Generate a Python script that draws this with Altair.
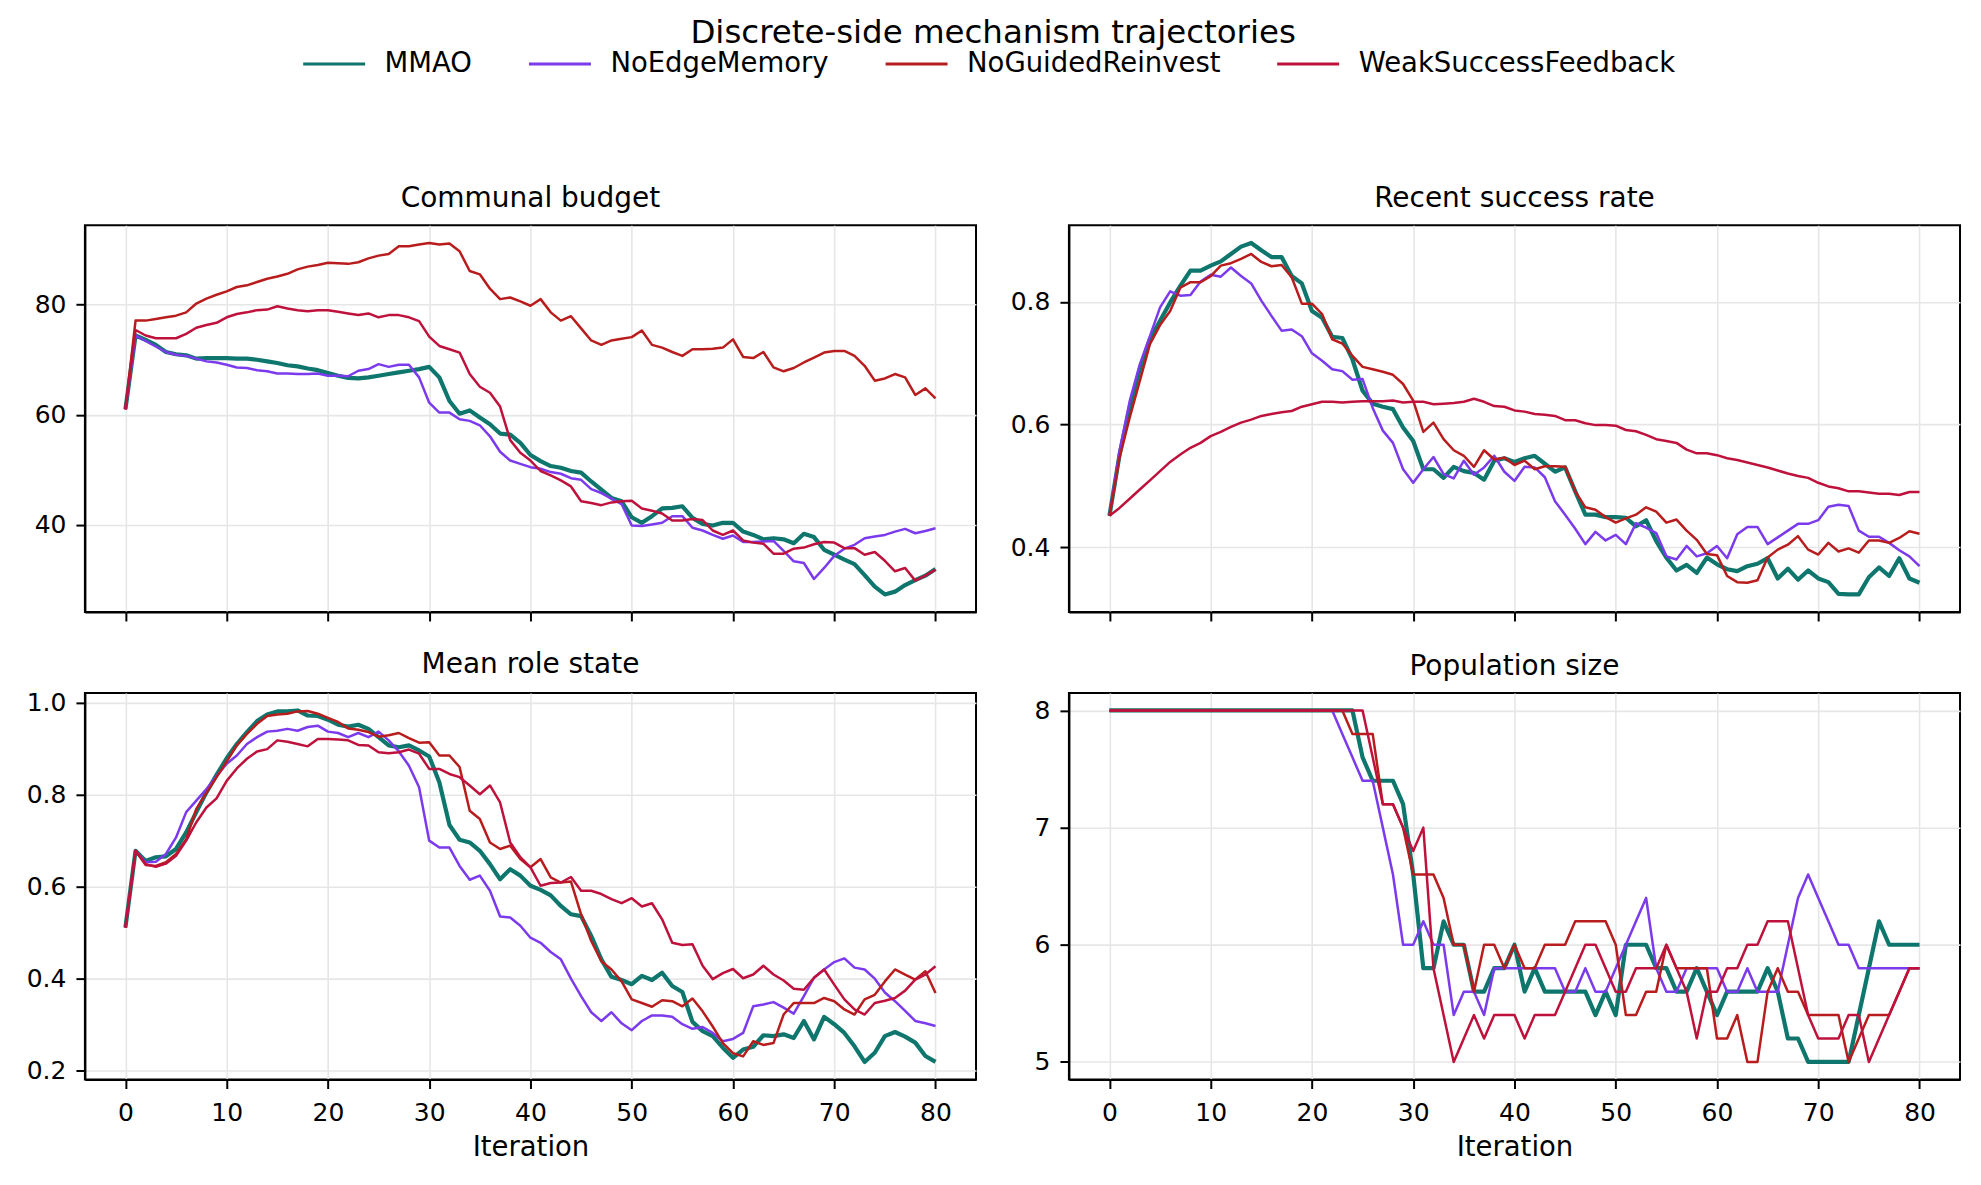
import altair as alt
import pandas as pd

# ---------------------------------------------------------------------------
# Data: per-iteration trajectories of four mechanism variants
# ---------------------------------------------------------------------------
iterations = list(range(0, 81))
x_ticks = [0, 10, 20, 30, 40, 50, 60, 70, 80]

series_names = ["MMAO", "NoEdgeMemory", "NoGuidedReinvest", "WeakSuccessFeedback"]
series_colors = ["#0f766e", "#7c3aed", "#b91c1c", "#be123c"]
series_line_widths = [4.2, 2.5, 2.5, 2.5]

budget_mmao = [61.0, 74.4, 73.6, 72.7, 71.4, 71.0, 70.8, 70.2, 70.3, 70.3,
               70.3, 70.2, 70.2, 70.0, 69.7, 69.4, 69.0, 68.8, 68.4, 68.1,
               67.6, 67.1, 66.7, 66.6, 66.8, 67.1, 67.4, 67.7, 68.0, 68.3,
               68.7, 66.8, 62.5, 60.2, 60.8, 59.5, 58.3, 56.6, 56.4, 54.9,
               52.7, 51.6, 50.7, 50.4, 49.8, 49.5, 47.9, 46.4, 44.9, 44.3,
               41.4, 40.4, 41.6, 43.0, 43.1, 43.4, 41.3, 40.2, 39.9, 40.4,
               40.4, 38.8, 38.2, 37.4, 37.6, 37.4, 36.7, 38.4, 37.8, 35.5,
               34.6, 33.7, 32.9, 30.9, 28.8, 27.4, 27.9, 29.1, 30.0, 30.8,
               32.0]
budget_noedge = [61.0, 74.4, 73.4, 72.4, 71.4, 70.9, 70.7, 70.2, 69.7, 69.5,
                 69.1, 68.6, 68.5, 68.1, 67.9, 67.5, 67.5, 67.4, 67.4, 67.5,
                 67.1, 67.1, 67.0, 68.0, 68.3, 69.2, 68.7, 69.1, 69.1, 66.8,
                 62.2, 60.4, 60.4, 59.2, 58.9, 58.1, 56.1, 53.3, 51.7, 51.1,
                 50.5, 50.2, 49.6, 49.3, 48.5, 48.2, 46.5, 45.8, 44.8, 43.8,
                 39.9, 39.8, 40.1, 40.4, 41.6, 41.6, 39.5, 39.0, 38.2, 37.5,
                 38.1, 36.9, 36.9, 37.0, 37.1, 35.3, 33.4, 33.1, 30.2, 32.2,
                 34.4, 35.7, 36.4, 37.6, 37.9, 38.2, 38.8, 39.3, 38.5, 38.9,
                 39.4]
budget_noguided = [61.0, 77.1, 77.1, 77.4, 77.7, 78.0, 78.6, 80.2, 81.1, 81.8,
                   82.4, 83.2, 83.5, 84.1, 84.7, 85.1, 85.6, 86.4, 86.9, 87.2,
                   87.6, 87.5, 87.4, 87.7, 88.4, 88.9, 89.2, 90.6, 90.6, 90.9,
                   91.2, 90.9, 91.1, 89.7, 86.1, 85.5, 82.9, 81.0, 81.3, 80.6,
                   79.8, 81.0, 78.6, 77.1, 77.9, 75.7, 73.5, 72.7, 73.5, 73.8,
                   74.1, 75.3, 72.7, 72.2, 71.4, 70.7, 71.9, 71.9, 72.0, 72.2,
                   73.7, 70.5, 70.3, 71.4, 68.6, 67.9, 68.5, 69.5, 70.4, 71.3,
                   71.6, 71.6, 70.7, 68.9, 66.2, 66.6, 67.4, 66.8, 63.6, 64.8,
                   63.0]
budget_weak = [61.0, 75.4, 74.4, 73.9, 73.9, 73.9, 74.7, 75.8, 76.3, 76.7,
               77.7, 78.3, 78.6, 79.0, 79.1, 79.7, 79.3, 79.0, 78.8, 79.0,
               79.0, 78.7, 78.4, 78.1, 78.4, 77.7, 78.1, 78.1, 77.7, 77.0,
               74.2, 72.5, 71.9, 71.3, 67.4, 65.1, 64.0, 61.5, 55.4, 53.1,
               51.7, 49.8, 49.0, 48.1, 47.0, 44.3, 44.0, 43.6, 44.1, 44.3,
               44.4, 43.0, 42.6, 42.1, 40.8, 40.8, 41.1, 40.9, 39.0, 38.2,
               39.0, 37.2, 36.8, 36.6, 34.8, 34.8, 35.7, 35.9, 36.5, 36.9,
               36.8, 35.8, 35.8, 34.6, 35.1, 33.5, 31.6, 32.2, 29.9, 30.8,
               31.9]

success_mmao = [0.451, 0.551, 0.627, 0.690, 0.739, 0.769, 0.799, 0.826, 0.851, 0.851,
                0.859, 0.866, 0.878, 0.890, 0.896, 0.884, 0.873, 0.873, 0.842, 0.830,
                0.785, 0.774, 0.743, 0.741, 0.706, 0.655, 0.634, 0.629, 0.625, 0.595,
                0.573, 0.527, 0.527, 0.513, 0.531, 0.524, 0.521, 0.510, 0.541, 0.545,
                0.539, 0.545, 0.549, 0.536, 0.523, 0.530, 0.491, 0.453, 0.453, 0.449,
                0.449, 0.448, 0.434, 0.444, 0.410, 0.383, 0.362, 0.371, 0.358, 0.383,
                0.372, 0.364, 0.361, 0.369, 0.373, 0.382, 0.349, 0.365, 0.347, 0.362,
                0.349, 0.343, 0.324, 0.323, 0.323, 0.351, 0.367, 0.353, 0.382, 0.349,
                0.342]
success_noedge = [0.451, 0.557, 0.638, 0.698, 0.744, 0.791, 0.817, 0.810, 0.811, 0.833,
                  0.844, 0.841, 0.856, 0.842, 0.830, 0.802, 0.777, 0.753, 0.755, 0.744,
                  0.716, 0.704, 0.690, 0.687, 0.673, 0.674, 0.627, 0.590, 0.570, 0.527,
                  0.505, 0.527, 0.547, 0.519, 0.512, 0.541, 0.518, 0.530, 0.549, 0.523,
                  0.508, 0.531, 0.530, 0.514, 0.475, 0.453, 0.430, 0.405, 0.425, 0.411,
                  0.420, 0.405, 0.439, 0.432, 0.423, 0.385, 0.380, 0.402, 0.385, 0.390,
                  0.402, 0.382, 0.421, 0.433, 0.433, 0.405, 0.416, 0.427, 0.438, 0.438,
                  0.444, 0.466, 0.469, 0.467, 0.427, 0.417, 0.417, 0.407, 0.395, 0.385,
                  0.369]
success_noguided = [0.451, 0.546, 0.611, 0.671, 0.731, 0.762, 0.785, 0.823, 0.832, 0.832,
                    0.842, 0.859, 0.863, 0.870, 0.878, 0.865, 0.858, 0.860, 0.840, 0.797,
                    0.797, 0.780, 0.739, 0.732, 0.712, 0.694, 0.690, 0.686, 0.681, 0.666,
                    0.639, 0.588, 0.603, 0.576, 0.558, 0.549, 0.531, 0.558, 0.543, 0.546,
                    0.534, 0.541, 0.527, 0.532, 0.532, 0.531, 0.491, 0.465, 0.461, 0.449,
                    0.440, 0.447, 0.453, 0.465, 0.458, 0.440, 0.445, 0.427, 0.412, 0.389,
                    0.387, 0.353, 0.343, 0.342, 0.346, 0.383, 0.396, 0.404, 0.418, 0.396,
                    0.388, 0.407, 0.393, 0.398, 0.391, 0.411, 0.411, 0.407, 0.415, 0.426,
                    0.422]
success_weak = [0.451, 0.464, 0.479, 0.494, 0.509, 0.524, 0.539, 0.551, 0.562, 0.570,
                0.581, 0.588, 0.596, 0.603, 0.608, 0.614, 0.617, 0.620, 0.622, 0.629,
                0.633, 0.637, 0.637, 0.636, 0.637, 0.638, 0.638, 0.638, 0.639, 0.636,
                0.637, 0.637, 0.633, 0.634, 0.635, 0.637, 0.642, 0.637, 0.630, 0.629,
                0.623, 0.621, 0.617, 0.616, 0.614, 0.607, 0.607, 0.602, 0.599, 0.599,
                0.598, 0.591, 0.589, 0.583, 0.576, 0.573, 0.570, 0.559, 0.553, 0.553,
                0.550, 0.545, 0.542, 0.538, 0.534, 0.530, 0.525, 0.520, 0.516, 0.513,
                0.505, 0.499, 0.496, 0.491, 0.491, 0.489, 0.487, 0.487, 0.485, 0.490,
                0.490]

role_mmao = [0.511, 0.678, 0.656, 0.664, 0.666, 0.682, 0.718, 0.762, 0.805, 0.843,
             0.879, 0.910, 0.936, 0.960, 0.974, 0.981, 0.981, 0.983, 0.972, 0.971,
             0.963, 0.952, 0.948, 0.952, 0.943, 0.925, 0.907, 0.903, 0.907, 0.896,
             0.883, 0.827, 0.734, 0.702, 0.696, 0.678, 0.649, 0.616, 0.638, 0.624,
             0.602, 0.593, 0.581, 0.558, 0.540, 0.536, 0.493, 0.442, 0.404, 0.397,
             0.388, 0.406, 0.397, 0.413, 0.384, 0.371, 0.306, 0.286, 0.275, 0.250,
             0.228, 0.246, 0.252, 0.277, 0.275, 0.279, 0.271, 0.308, 0.268, 0.317,
             0.301, 0.282, 0.253, 0.219, 0.239, 0.275, 0.284, 0.274, 0.261, 0.232,
             0.219]
role_noedge = [0.511, 0.678, 0.653, 0.654, 0.671, 0.707, 0.762, 0.787, 0.812, 0.840,
               0.867, 0.885, 0.910, 0.925, 0.937, 0.939, 0.943, 0.939, 0.947, 0.950,
               0.937, 0.934, 0.925, 0.934, 0.925, 0.937, 0.918, 0.894, 0.863, 0.816,
               0.700, 0.685, 0.685, 0.645, 0.615, 0.624, 0.591, 0.535, 0.533, 0.515,
               0.489, 0.478, 0.458, 0.442, 0.400, 0.362, 0.327, 0.308, 0.327, 0.303,
               0.288, 0.308, 0.320, 0.320, 0.317, 0.301, 0.291, 0.295, 0.282, 0.264,
               0.269, 0.282, 0.340, 0.344, 0.349, 0.337, 0.324, 0.362, 0.402, 0.420,
               0.436, 0.444, 0.424, 0.420, 0.400, 0.370, 0.351, 0.330, 0.308, 0.303,
               0.297]
role_noguided = [0.511, 0.678, 0.647, 0.645, 0.653, 0.671, 0.703, 0.769, 0.804, 0.838,
                 0.872, 0.907, 0.932, 0.954, 0.971, 0.974, 0.976, 0.981, 0.982, 0.976,
                 0.967, 0.958, 0.944, 0.941, 0.936, 0.926, 0.929, 0.934, 0.923, 0.913,
                 0.914, 0.885, 0.885, 0.860, 0.765, 0.747, 0.696, 0.682, 0.689, 0.660,
                 0.642, 0.660, 0.620, 0.609, 0.611, 0.540, 0.482, 0.438, 0.420, 0.394,
                 0.355, 0.347, 0.339, 0.353, 0.351, 0.340, 0.357, 0.329, 0.296, 0.260,
                 0.238, 0.231, 0.264, 0.256, 0.260, 0.322, 0.347, 0.347, 0.347, 0.358,
                 0.351, 0.333, 0.322, 0.355, 0.365, 0.394, 0.420, 0.409, 0.398, 0.416,
                 0.369]
role_weak = [0.511, 0.678, 0.649, 0.643, 0.650, 0.667, 0.700, 0.740, 0.772, 0.792,
             0.830, 0.857, 0.878, 0.894, 0.899, 0.918, 0.915, 0.910, 0.905, 0.921,
             0.921, 0.920, 0.918, 0.908, 0.907, 0.892, 0.890, 0.892, 0.898, 0.889,
             0.856, 0.856, 0.845, 0.838, 0.820, 0.801, 0.820, 0.783, 0.696, 0.664,
             0.642, 0.602, 0.608, 0.609, 0.621, 0.591, 0.591, 0.584, 0.573, 0.564,
             0.575, 0.557, 0.564, 0.529, 0.478, 0.473, 0.475, 0.428, 0.399, 0.412,
             0.421, 0.401, 0.409, 0.428, 0.409, 0.396, 0.378, 0.376, 0.402, 0.420,
             0.387, 0.355, 0.333, 0.322, 0.347, 0.352, 0.358, 0.374, 0.398, 0.409,
             0.427]

pop_mmao = [8.0, 8.0, 8.0, 8.0, 8.0, 8.0, 8.0, 8.0, 8.0, 8.0,
            8.0, 8.0, 8.0, 8.0, 8.0, 8.0, 8.0, 8.0, 8.0, 8.0,
            8.0, 8.0, 8.0, 8.0, 8.0, 7.6, 7.4, 7.4, 7.4, 7.2,
            6.6, 5.8, 5.8, 6.2, 6.0, 6.0, 5.6, 5.6, 5.8, 5.8,
            6.0, 5.6, 5.8, 5.6, 5.6, 5.6, 5.6, 5.6, 5.4, 5.6,
            5.4, 6.0, 6.0, 6.0, 5.8, 5.8, 5.6, 5.6, 5.8, 5.6,
            5.4, 5.6, 5.6, 5.6, 5.6, 5.8, 5.6, 5.2, 5.2, 5.0,
            5.0, 5.0, 5.0, 5.0, 5.4, 5.8, 6.2, 6.0, 6.0, 6.0,
            6.0]
pop_noedge = [8.0, 8.0, 8.0, 8.0, 8.0, 8.0, 8.0, 8.0, 8.0, 8.0,
              8.0, 8.0, 8.0, 8.0, 8.0, 8.0, 8.0, 8.0, 8.0, 8.0,
              8.0, 8.0, 8.0, 7.8, 7.6, 7.4, 7.4, 7.0, 6.6, 6.0,
              6.0, 6.2, 6.0, 6.0, 5.4, 5.6, 5.6, 5.4, 5.8, 5.8,
              5.8, 5.8, 5.8, 5.8, 5.8, 5.6, 5.6, 5.8, 5.6, 5.6,
              5.8, 6.0, 6.2, 6.4, 5.8, 5.6, 5.6, 5.8, 5.8, 5.8,
              5.8, 5.6, 5.6, 5.8, 5.6, 5.6, 5.6, 6.0, 6.4, 6.6,
              6.4, 6.2, 6.0, 6.0, 5.8, 5.8, 5.8, 5.8, 5.8, 5.8,
              5.8]
pop_noguided = [8.0, 8.0, 8.0, 8.0, 8.0, 8.0, 8.0, 8.0, 8.0, 8.0,
                8.0, 8.0, 8.0, 8.0, 8.0, 8.0, 8.0, 8.0, 8.0, 8.0,
                8.0, 8.0, 8.0, 8.0, 7.8, 7.8, 7.8, 7.2, 7.2, 7.0,
                6.6, 6.6, 6.6, 6.4, 6.0, 6.0, 5.6, 6.0, 6.0, 5.8,
                6.0, 5.8, 5.8, 6.0, 6.0, 6.0, 6.2, 6.2, 6.2, 6.2,
                6.0, 5.4, 5.4, 5.6, 5.6, 6.0, 5.8, 5.8, 5.8, 5.8,
                5.2, 5.2, 5.4, 5.0, 5.0, 5.6, 5.8, 5.6, 5.6, 5.4,
                5.4, 5.4, 5.4, 5.0, 5.2, 5.4, 5.4, 5.4, 5.6, 5.8,
                5.8]
pop_weak = [8.0, 8.0, 8.0, 8.0, 8.0, 8.0, 8.0, 8.0, 8.0, 8.0,
            8.0, 8.0, 8.0, 8.0, 8.0, 8.0, 8.0, 8.0, 8.0, 8.0,
            8.0, 8.0, 8.0, 8.0, 8.0, 8.0, 7.6, 7.2, 7.2, 7.0,
            6.8, 7.0, 5.8, 5.4, 5.0, 5.2, 5.4, 5.2, 5.4, 5.4,
            5.4, 5.2, 5.4, 5.4, 5.4, 5.6, 5.8, 6.0, 6.0, 5.8,
            5.6, 5.6, 5.8, 5.8, 5.8, 6.0, 5.8, 5.6, 5.2, 5.6,
            5.6, 5.8, 5.8, 6.0, 6.0, 6.2, 6.2, 6.2, 5.8, 5.4,
            5.2, 5.2, 5.2, 5.4, 5.4, 5.0, 5.2, 5.4, 5.6, 5.8,
            5.8]

panels = [
    {"title": "Communal budget",
     "values": [budget_mmao, budget_noedge, budget_noguided, budget_weak],
     "ticks": [40, 60, 80], "format": "d", "bottom": False},
    {"title": "Recent success rate",
     "values": [success_mmao, success_noedge, success_noguided, success_weak],
     "ticks": [0.4, 0.6, 0.8], "format": ".1f", "bottom": False},
    {"title": "Mean role state",
     "values": [role_mmao, role_noedge, role_noguided, role_weak],
     "ticks": [0.2, 0.4, 0.6, 0.8, 1.0], "format": ".1f", "bottom": True},
    {"title": "Population size",
     "values": [pop_mmao, pop_noedge, pop_noguided, pop_weak],
     "ticks": [5, 6, 7, 8], "format": "d", "bottom": True},
]

# ---------------------------------------------------------------------------
# Styling
# ---------------------------------------------------------------------------
FONT = "DejaVu Sans"
PLOT_W, PLOT_H = 892, 387

color_scale = alt.Scale(domain=series_names, range=series_colors)
series_legend = alt.Legend(
    title=None, orient="none", legendX=217, legendY=-194,
    direction="horizontal", columns=4,
    symbolType="stroke", symbolSize=3844, symbolStrokeWidth=3.0,
    labelFont=FONT, labelFontSize=27.5, labelColor="black", labelLimit=800,
    labelOffset=18, columnPadding=50, padding=0, rowPadding=0,
)

x_lo, x_hi = min(iterations), max(iterations)
x_margin = 0.05 * (x_hi - x_lo)
x_scale = alt.Scale(domain=[x_lo - x_margin, x_hi + x_margin], nice=False, zero=False)


def make_panel(spec):
    rows = []
    for name, vals in zip(series_names, spec["values"]):
        for it, v in zip(iterations, vals):
            rows.append({"iteration": it, "value": v, "series": name})
    df = pd.DataFrame(rows)

    flat = [v for vals in spec["values"] for v in vals]
    lo, hi = min(flat), max(flat)
    margin = 0.05 * (hi - lo)
    y_scale = alt.Scale(domain=[lo - margin, hi + margin], nice=False, zero=False)

    if spec["bottom"]:
        x_axis = alt.Axis(values=x_ticks, format="d", title="Iteration", grid=True,
                          labelPadding=12)
    else:
        x_axis = alt.Axis(values=x_ticks, labels=False, title=None, grid=True)
    y_axis = alt.Axis(values=spec["ticks"], format=spec["format"], title=None, grid=True,
                      labelPadding=10)

    layers = []
    for name, width in zip(series_names, series_line_widths):
        layers.append(
            alt.Chart(df)
            .transform_filter(alt.datum.series == name)
            .mark_line(strokeWidth=width, strokeJoin="round")
            .encode(
                x=alt.X("iteration:Q", scale=x_scale, axis=x_axis),
                y=alt.Y("value:Q", scale=y_scale, axis=y_axis),
                color=alt.Color("series:N", scale=color_scale, legend=series_legend),
            )
        )
    return alt.layer(*layers).properties(
        width=PLOT_W,
        height=PLOT_H,
        title=alt.TitleParams(spec["title"], font=FONT, fontSize=28, fontWeight="normal",
                              color="black", anchor="middle", offset=12),
    )


chart = alt.ConcatChart(
    concat=[make_panel(p) for p in panels],
    columns=2,
    spacing={"row": 81, "column": 93},
    bounds="flush",
    title=alt.TitleParams("Discrete-side mechanism trajectories", font=FONT, fontSize=32.5,
                          fontWeight="normal", color="black", anchor="middle",
                          frame="bounds", offset=-17.5),
    padding={"left": 25, "top": 16, "right": 20, "bottom": 10},
).configure_axis(
    domainColor="black", domainWidth=2,
    tickColor="black", tickWidth=2, tickSize=9,
    gridColor="#e6e6e6", gridWidth=1.6,
    labelFont=FONT, labelFontSize=25, labelColor="black", labelPadding=8,
    titleFont=FONT, titleFontSize=27.5, titleFontWeight="normal", titleColor="black",
    titlePadding=8,
).configure_view(stroke="black", strokeWidth=2)

chart.save("out.html", embed_options={"renderer": "svg", "actions": False})
